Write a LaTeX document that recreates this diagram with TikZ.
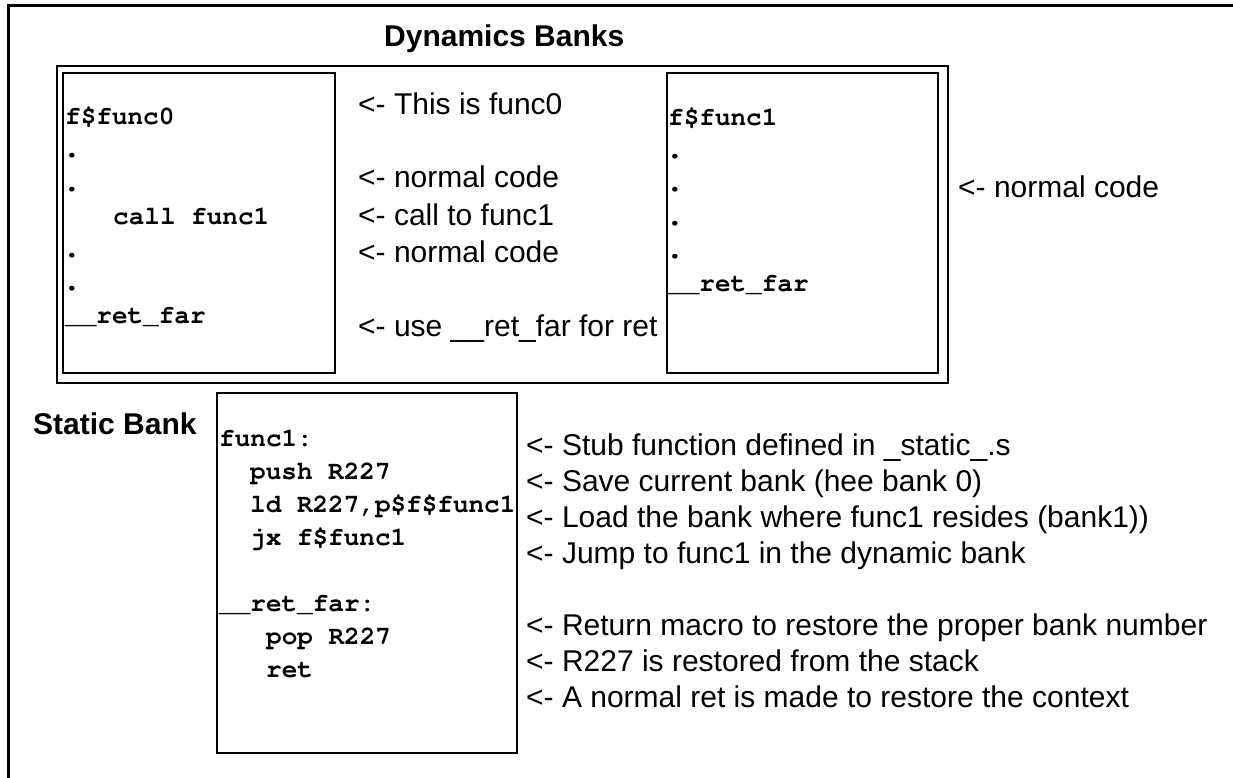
\documentclass[tikz,border=0pt]{standalone}
\usepackage[T1,TU]{fontenc}
\usepackage{fontspec}
\setmainfont{Liberation Sans}
% Courier bold for the assembly listings
\newcommand\asmfont{\fontencoding{T1}\fontfamily{pcr}\fontseries{b}\fontshape{n}\fontsize{26}{26}\selectfont}
\newcommand\asmdotfont{\fontencoding{T1}\fontfamily{pcr}\fontseries{b}\fontshape{n}\fontsize{36}{36}\selectfont}
\newcommand\notefont{\fontsize{30}{30}\selectfont}
\tikzset{
  frameline/.style={line width=3pt},
  bankbox/.style={draw, line width=2.8pt, outer sep=0pt, inner sep=0pt, anchor=north west},
  asm/.style={anchor=base west, inner sep=0pt, font=\asmfont},
  asmdot/.style={anchor=base west, inner sep=0pt, font=\asmdotfont},
  note/.style={anchor=base west, inner sep=0pt, font=\notefont},
  heading/.style={anchor=base west, inner sep=0pt, font=\notefont\bfseries},
}
\begin{document}
\begin{tikzpicture}[x=1pt,y=-1pt]
\useasboundingbox (0,0) rectangle (1233,778);

% page frame (top and left edges)
\coordinate (fbl) at (8,778);
\coordinate (ftl) at (8,6);
\coordinate (ftr) at (1233,6);
\draw[frameline] (fbl) -- (ftl) -- (ftr);

% dynamic banks
\node[heading] (dyntitle) at (384,47) {Dynamics Banks};
\node[bankbox, minimum width=891pt, minimum height=317pt] (dyn) at (57,66) {};
\node[bankbox, minimum width=272pt, minimum height=300pt] (bank0) at (63,73) {};
\node[bankbox, minimum width=271pt, minimum height=300pt] (bank1) at (667,73) {};

% func0 listing
\node[asm] (f0a) at (65,125) {f\$func0};
\node[asmdot] (f0b) at (61,158) {.};
\node[asmdot] (f0c) at (61,191) {.};
\node[asm] (f0d) at (113,224) {call func1};
\node[asmdot] (f0e) at (61,257) {.};
\node[asmdot] (f0f) at (61,290) {.};
\node[asm] (f0g) at (65,323) {\_\_ret\_far};

% notes on func0
\node[note] (n0a) at (358,115) {<- This is func0};
\node[note] (n0b) at (358,188) {<- normal code};
\node[note] (n0c) at (358,225) {<- call to func1};
\node[note] (n0d) at (358,262) {<- normal code};
\node[note] (n0e) at (358,336) {<- use \_\_ret\_far for ret};

% func1 listing
\node[asm] (f1a) at (668,126) {f\$func1};
\node[asmdot] (f1b) at (664,159) {.};
\node[asmdot] (f1c) at (664,192) {.};
\node[asmdot] (f1d) at (664,225) {.};
\node[asmdot] (f1e) at (664,258) {.};
\node[asm] (f1f) at (668,291) {\_\_ret\_far};
\node[note] (n1a) at (958,197) {<- normal code};

% static bank
\node[heading] (sttitle) at (33,434) {Static Bank};
\node[bankbox, minimum width=300pt, minimum height=360pt] (stat) at (217,393) {};
\node[asm] (s1) at (219,446) {func1:};
\node[asm] (s2) at (250,479) {push R227};
\node[asm] (s3) at (250,512) {ld R227,p\$f\$func1};
\node[asm] (s4) at (250,545) {jx f\$func1};
\node[asm] (s5) at (219,611) {\_\_ret\_far:};
\node[asm] (s6) at (266,644) {pop R227};
\node[asm] (s7) at (266,677) {ret};

% notes on the stub
\node[note] (m1) at (526,455) {<- Stub function defined in \_static\_.s};
\node[note] (m2) at (526,491) {<- Save current bank (hee bank 0)};
\node[note] (m3) at (526,527) {<- Load the bank where func1 resides (bank1))};
\node[note] (m4) at (526,563) {<- Jump to func1 in the dynamic bank};
\node[note] (m5) at (526,635) {<- Return macro to restore the proper bank number};
\node[note] (m6) at (526,671) {<- R227 is restored from the stack};
\node[note] (m7) at (526,707) {<- A normal ret is made to restore the context};
\end{tikzpicture}
\end{document}
